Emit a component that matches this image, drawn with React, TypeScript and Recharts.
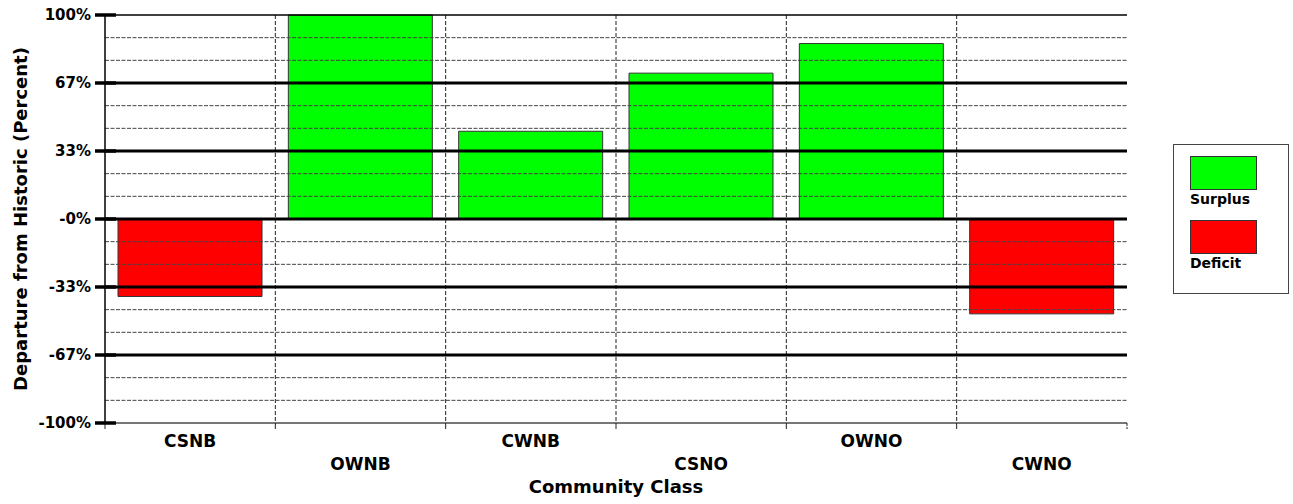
import React from 'react';
import {
    BarChart,
    Bar,
    Cell,
    XAxis,
    YAxis,
    CartesianGrid,
    ReferenceLine,
    Legend,
} from 'recharts';

const categories = ['CSNB', 'OWNB', 'CWNB', 'CSNO', 'OWNO', 'CWNO'];
const departure = [-38, 100, 43, 71.5, 86, -46.5];

const yTicks = [-100, -66.667, -33.333, 0, 33.333, 66.667, 100];
const yTickLabels = ['-100%', '-67%', '-33%', '-0%', '33%', '67%', '100%'];
const majorLines = [66.667, 33.333, 0, -33.333, -66.667];
const minorLines = [88.889, 77.778, 55.556, 44.444, 22.222, 11.111, -11.111, -22.222, -44.444, -55.556, -77.778, -88.889];

const legendItems = [
    { label: 'Surplus', color: '#00ff00' },
    { label: 'Deficit', color: '#ff0000' },
];

const data = categories.map((name, i) => ({ name, value: departure[i] }));

const W = 1293;
const H = 504;
const M = { top: 15, right: 166, bottom: 0, left: 0 };
const Y_W = 105;
const X_H = 81;
const PLOT_W = W - Y_W - M.right;
const BAND = PLOT_W / categories.length;
const FONT = '"DejaVu Sans", sans-serif';

const YTick = (props: any) => {
    const { x, y, index } = props;
    return (
        <g>
            <line x1={x - 10} x2={x + 11} y1={y} y2={y} stroke="#000" strokeWidth={3.5} />
            <text x={x - 14} y={y} dy="0.36em" textAnchor="end" fontFamily={FONT} fontWeight="bold" fontSize={15} fill="#000">
                {yTickLabels[index]}
            </text>
        </g>
    );
};

const XTick = (props: any) => {
    const { x, y, payload, index } = props;
    const rowY = index % 2 === 0 ? 440.5 : 463.5;
    return (
        <g>
            <line x1={x - BAND / 2} x2={x - BAND / 2} y1={y} y2={y + 6} stroke="#222" strokeWidth={1} />
            {index === categories.length - 1 && (
                <line x1={x + BAND / 2} x2={x + BAND / 2} y1={y} y2={y + 6} stroke="#222" strokeWidth={1} strokeDasharray="3 1" />
            )}
            <text x={x} y={rowY} dy="0.36em" textAnchor="middle" fontFamily={FONT} fontWeight="bold" fontSize={17} fill="#000">
                {payload.value}
            </text>
        </g>
    );
};

const LegendBox = () => (
    <div
        style={{
            boxSizing: 'border-box',
            width: 116,
            height: 150,
            border: '1px solid #444',
            background: '#fff',
            padding: '11px 0 0 16px',
            fontFamily: FONT,
            fontWeight: 'bold',
            fontSize: 14,
            color: '#000',
        }}
    >
        {legendItems.map((item) => (
            <div key={item.label} style={{ marginBottom: 12 }}>
                <div style={{ boxSizing: 'border-box', width: 67, height: 34, background: item.color, border: '1px solid #333' }} />
                <div style={{ lineHeight: '17px', marginTop: 1 }}>{item.label}</div>
            </div>
        ))}
    </div>
);

export default function App() {
    return (
        <div style={{ position: 'absolute', left: 0, top: 0, width: W, height: H, background: '#fff' }}>
            <BarChart width={W} height={H} data={data} margin={M}>
                <CartesianGrid
                    horizontal={false}
                    stroke="#222"
                    strokeDasharray="4 2"
                    verticalCoordinatesGenerator={({ offset }: any) =>
                        categories.slice(1).map((_, i) => offset.left + (i + 1) * (offset.width / categories.length))
                    }
                />
                <XAxis
                    dataKey="name"
                    height={X_H}
                    tickLine={false}
                    tickSize={0}
                    tickMargin={0}
                    axisLine={{ stroke: '#777', strokeWidth: 2 }}
                    tick={<XTick />}
                    interval={0}
                    label={{
                        content: () => (
                            <text x={Y_W + PLOT_W / 2} y={487} dy="0.36em" textAnchor="middle" fontFamily={FONT} fontWeight="bold" fontSize={18} fill="#000">
                                Community Class
                            </text>
                        ),
                    }}
                />
                <YAxis
                    width={Y_W}
                    domain={[-100, 100]}
                    ticks={yTicks}
                    tickLine={false}
                    tickSize={0}
                    tickMargin={0}
                    axisLine={{ stroke: '#000', strokeWidth: 1.5 }}
                    tick={<YTick />}
                    interval={0}
                    label={{
                        content: () => (
                            <text x={27} y={219} transform="rotate(-90 27 219)" textAnchor="middle" fontFamily={FONT} fontWeight="bold" fontSize={18} fill="#000">
                                Departure from Historic (Percent)
                            </text>
                        ),
                    }}
                />
                <YAxis
                    yAxisId="right"
                    orientation="right"
                    width={0}
                    domain={[-100, 100]}
                    tick={false}
                    tickLine={false}
                    axisLine={{ stroke: '#777', strokeWidth: 2 }}
                />
                <Bar dataKey="value" barSize={144} stroke="#333" strokeWidth={1} isAnimationActive={false}>
                    {data.map((d) => (
                        <Cell key={d.name} fill={d.value >= 0 ? '#00ff00' : '#ff0000'} />
                    ))}
                </Bar>
                {minorLines.map((v) => (
                    <ReferenceLine key={'mi' + v} y={v} stroke="#444" strokeWidth={1} strokeDasharray="4 1.5" />
                ))}
                {majorLines.map((v) => (
                    <ReferenceLine key={'ma' + v} y={v} stroke="#000" strokeWidth={3} />
                ))}
                <ReferenceLine y={100} stroke="#000" strokeWidth={1.5} />
                <Legend
                    layout="vertical"
                    align="center"
                    verticalAlign="middle"
                    content={<LegendBox />}
                    wrapperStyle={{ left: 1173, top: 144, width: 116, height: 150 }}
                />
            </BarChart>
        </div>
    );
}
